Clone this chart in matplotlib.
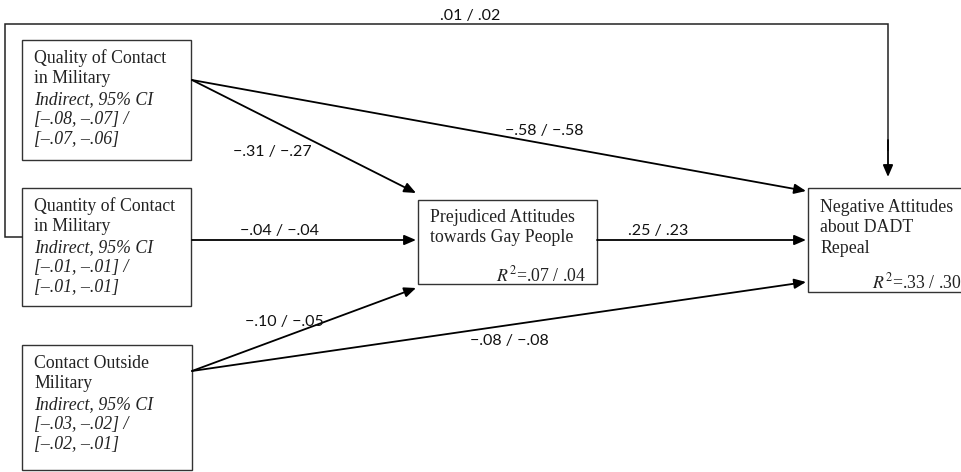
import matplotlib
matplotlib.use('Agg')
from matplotlib import pyplot as plt
from matplotlib.patches import Rectangle

plt.rcParams['mathtext.fontset'] = 'stix'

# node text
predictors = ['Quality of Contact\nin Military', 'Quantity of Contact\nin Military',
              'Contact Outside\nMilitary']
predictor_ci = [['[\u2013.08, \u2013.07] /', '[\u2013.07, \u2013.06]'],
                ['[\u2013.01, \u2013.01] /', '[\u2013.01, \u2013.01]'],
                ['[\u2013.03, \u2013.02] /', '[\u2013.02, \u2013.01]']]
mediator = 'Prejudiced Attitudes\ntowards Gay People'
outcome = 'Negative Attitudes\nabout DADT\nRepeal'
r2_mediator = '.07 / .04'
r2_outcome = '.33 / .30'

# path coefficients (study 1 / study 2)
path_quality_med = '\u2212.31 / \u2212.27'
path_quality_out = '\u2212.58 / \u2212.58'
path_quantity_med = '\u2212.04 / \u2212.04'
path_quantity_out = '.01 / .02'
path_outside_med = '\u2212.10 / \u2212.05'
path_outside_out = '\u2212.08 / \u2212.08'
path_med_out = '.25 / .23'

# layout in pixels (x0, y0, x1, y1), y goes down
pred_boxes = [(22, 40, 191, 160), (22, 188, 191, 306), (22, 345, 192, 470)]
pred_text_y = [63, 211, 368]
med_box = (418, 200, 597, 284)
out_box = (808, 188, 990, 292)

serif = 'Liberation Serif'
sans = 'Lato'
line_col = '#222222'

fig = plt.figure(figsize=(9.62, 4.72), dpi=100)
ax = fig.add_axes([0, 0, 1, 1])
ax.set_xlim(0, 962)
ax.set_ylim(472, 0)
ax.axis('off')


def box(b):
    ax.add_patch(Rectangle((b[0], b[1]), b[2] - b[0], b[3] - b[1],
                           fill=False, lw=1.0, ec='#333333', zorder=2))


def lines(x, y, txt, style='normal', step=20.3):
    for i, t in enumerate(txt.split('\n')):
        ax.text(x, y + i * step, t, family=serif, style=style, fontsize=12.8,
                va='baseline', ha='left', color='#222222')


def arrow(p0, p1):
    ax.annotate('', xy=p1, xytext=p0,
                arrowprops=dict(arrowstyle='-|>,head_length=0.7,head_width=0.3',
                                color='black', lw=1.3, shrinkA=0, shrinkB=0))


def label(x, y, txt):
    ax.text(x, y, txt, family=sans, fontsize=11.5, va='baseline', ha='left',
            color='#111111')


for b, name, ci, ty in zip(pred_boxes, predictors, predictor_ci, pred_text_y):
    box(b)
    lines(34, ty, name)
    lines(34, ty + 40.6, 'Indirect, 95% CI\n' + '\n'.join(ci), style='italic')

box(med_box)
lines(430, 222, mediator)
ax.text(586, 281, r'$R^{2}$=' + r2_mediator, family=serif, fontsize=12.8,
        ha='right', va='baseline', color='#222222')

box(out_box)
lines(820, 212, outcome)
ax.text(961, 288, r'$R^{2}$=' + r2_outcome, family=serif, fontsize=12.8,
        ha='right', va='baseline', color='#222222')

# quantity -> outcome loop around the top
ax.plot([22, 5, 5, 888, 888], [237, 237, 24, 24, 150], color=line_col, lw=1.1,
        solid_joinstyle='miter')
arrow((888, 140), (888, 177))

arrow((192, 80), (416, 193))
arrow((192, 80), (806, 191))
arrow((192, 240), (416, 240))
arrow((597, 240), (806, 240))
arrow((192, 371), (416, 288))
arrow((192, 371), (806, 282))

label(440, 20, path_quantity_out)
label(233, 156, path_quality_med)
label(505, 135, path_quality_out)
label(240, 235, path_quantity_med)
label(628, 235, path_med_out)
label(245, 326, path_outside_med)
label(470, 345, path_outside_out)

fig.savefig('out.png', dpi=100)
